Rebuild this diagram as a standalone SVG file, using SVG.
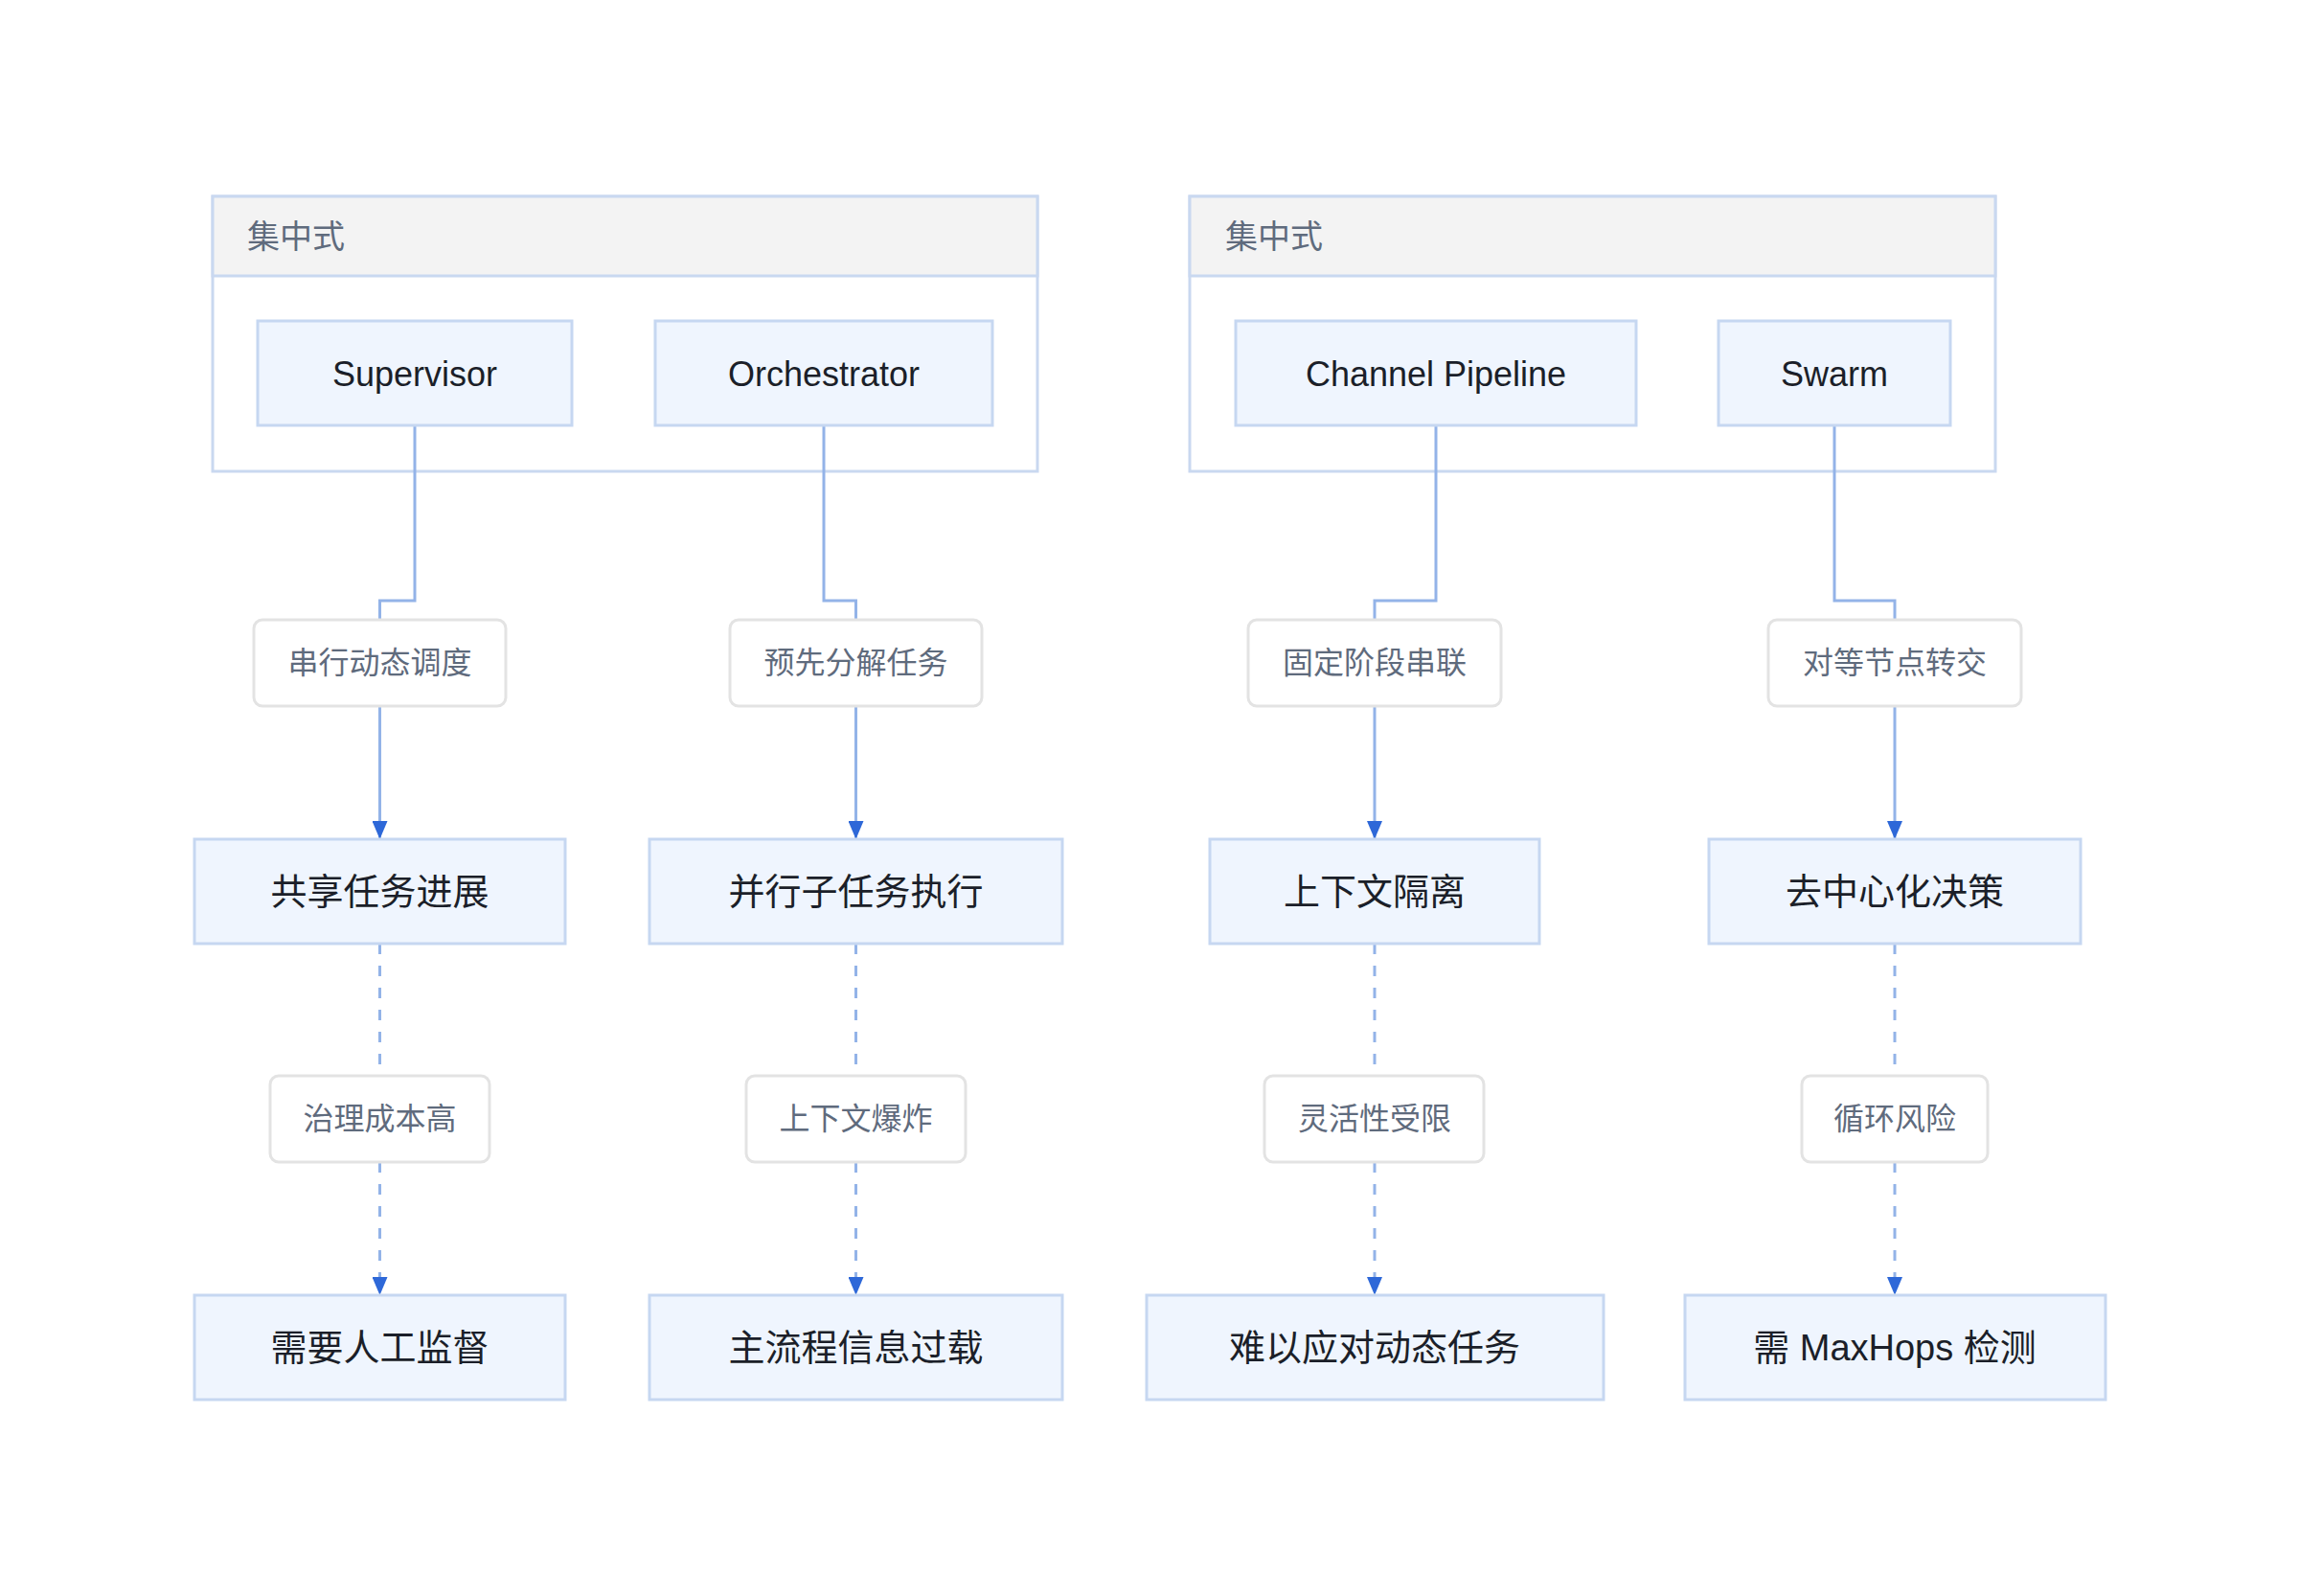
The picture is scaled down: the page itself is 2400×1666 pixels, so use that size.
<svg xmlns="http://www.w3.org/2000/svg" width="2400" height="1666" viewBox="0 0 2400 1666">
<style>
.cont{fill:#ffffff;stroke:#c9d8f0;stroke-width:3}
.hdr{fill:#f3f3f3;stroke:#c9d8f0;stroke-width:3}
.title{font-family:"Liberation Sans","Noto Sans CJK SC",sans-serif;font-size:34px;fill:#5f6b7d}
.node{fill:#eff5fe;stroke:#c6d7f1;stroke-width:3}
.lbl{fill:#ffffff;stroke:#e3e3e3;stroke-width:3}
.nt{font-family:"Liberation Sans","Noto Sans CJK SC",sans-serif;font-size:38px;fill:#1b1f29;text-anchor:middle;dominant-baseline:central}
.et{font-family:"Liberation Sans","Noto Sans CJK SC",sans-serif;font-size:36px;fill:#1b1f29;text-anchor:middle;dominant-baseline:central}
.lt{font-family:"Liberation Sans","Noto Sans CJK SC",sans-serif;font-size:32px;fill:#5f6b7d;text-anchor:middle;dominant-baseline:central}
.c{fill:none;stroke:#93b3e8;stroke-width:3}
.d{fill:none;stroke:#93b3e8;stroke-width:3;stroke-dasharray:11 12}
</style>
<defs>
<marker id="ahd" markerUnits="userSpaceOnUse" markerWidth="20" markerHeight="16" refX="19" refY="8" orient="auto" viewBox="0 0 20 16">
<path d="M0,0 L0,16 L19,8 Z" fill="#2e68d8"/>
</marker>
</defs>
<rect width="2400" height="1666" fill="#ffffff"/>

<g id="group-left">
<rect class="cont" x="222" y="205" width="861" height="287"/>
<rect class="hdr" x="222" y="205" width="861" height="83"/>
<text class="title" x="258" y="259">集中式</text>
</g>
<g id="group-right">
<rect class="cont" x="1242" y="205" width="841" height="287"/>
<rect class="hdr" x="1242" y="205" width="841" height="83"/>
<text class="title" x="1279" y="259">集中式</text>
</g>

<g id="connectors">
<path class="c" d="M433,444 V627 H396.5 V647"/>
<path class="c" d="M860,444 V627 H893.5 V647"/>
<path class="c" d="M1499,444 V627 H1435 V647"/>
<path class="c" d="M1915,444 V627 H1978 V647"/>
<path class="c" d="M396.5,737 V876" marker-end="url(#ahd)"/>
<path class="c" d="M893.5,737 V876" marker-end="url(#ahd)"/>
<path class="c" d="M1435,737 V876" marker-end="url(#ahd)"/>
<path class="c" d="M1978,737 V876" marker-end="url(#ahd)"/>
<path class="d" d="M396.5,985 V1123"/>
<path class="d" d="M893.5,985 V1123"/>
<path class="d" d="M1435,985 V1123"/>
<path class="d" d="M1978,985 V1123"/>
<path class="d" d="M396.5,1213 V1352" marker-end="url(#ahd)"/>
<path class="d" d="M893.5,1213 V1352" marker-end="url(#ahd)"/>
<path class="d" d="M1435,1213 V1352" marker-end="url(#ahd)"/>
<path class="d" d="M1978,1213 V1352" marker-end="url(#ahd)"/>
</g>

<g id="supervisor"><rect class="node" x="269" y="335" width="328" height="109"/><text class="et" x="433" y="390">Supervisor</text></g>
<g id="orchestrator"><rect class="node" x="684" y="335" width="352" height="109"/><text class="et" x="860" y="390">Orchestrator</text></g>
<g id="channel-pipeline"><rect class="node" x="1290" y="335" width="418" height="109"/><text class="et" x="1499" y="390">Channel Pipeline</text></g>
<g id="swarm"><rect class="node" x="1794" y="335" width="242" height="109"/><text class="et" x="1915" y="390">Swarm</text></g>

<g id="label-serial"><rect class="lbl" x="265" y="647" width="263" height="90" rx="9"/><text class="lt" x="396.5" y="692">串行动态调度</text></g>
<g id="label-predecompose"><rect class="lbl" x="762" y="647" width="263" height="90" rx="9"/><text class="lt" x="893.5" y="692">预先分解任务</text></g>
<g id="label-fixed"><rect class="lbl" x="1303" y="647" width="264" height="90" rx="9"/><text class="lt" x="1435" y="692">固定阶段串联</text></g>
<g id="label-peer"><rect class="lbl" x="1846" y="647" width="264" height="90" rx="9"/><text class="lt" x="1978" y="692">对等节点转交</text></g>

<g id="shared-progress"><rect class="node" x="203" y="876" width="387" height="109"/><text class="nt" x="396.5" y="930.5">共享任务进展</text></g>
<g id="parallel-exec"><rect class="node" x="678" y="876" width="431" height="109"/><text class="nt" x="893.5" y="930.5">并行子任务执行</text></g>
<g id="context-isolation"><rect class="node" x="1263" y="876" width="344" height="109"/><text class="nt" x="1435" y="930.5">上下文隔离</text></g>
<g id="decentralized"><rect class="node" x="1784" y="876" width="388" height="109"/><text class="nt" x="1978" y="930.5">去中心化决策</text></g>

<g id="label-governance"><rect class="lbl" x="282" y="1123" width="229" height="90" rx="9"/><text class="lt" x="396.5" y="1168">治理成本高</text></g>
<g id="label-context"><rect class="lbl" x="779" y="1123" width="229" height="90" rx="9"/><text class="lt" x="893.5" y="1168">上下文爆炸</text></g>
<g id="label-flex"><rect class="lbl" x="1320" y="1123" width="229" height="90" rx="9"/><text class="lt" x="1435" y="1168">灵活性受限</text></g>
<g id="label-loop"><rect class="lbl" x="1881" y="1123" width="194" height="90" rx="9"/><text class="lt" x="1978" y="1168">循环风险</text></g>

<g id="human-supervision"><rect class="node" x="203" y="1352" width="387" height="109"/><text class="nt" x="396.5" y="1406.5">需要人工监督</text></g>
<g id="overload"><rect class="node" x="678" y="1352" width="431" height="109"/><text class="nt" x="893.5" y="1406.5">主流程信息过载</text></g>
<g id="dynamic-tasks"><rect class="node" x="1197" y="1352" width="477" height="109"/><text class="nt" x="1435" y="1406.5">难以应对动态任务</text></g>
<g id="maxhops"><rect class="node" x="1759" y="1352" width="439" height="109"/><text class="nt" x="1978" y="1406.5">需 MaxHops 检测</text></g>
</svg>
